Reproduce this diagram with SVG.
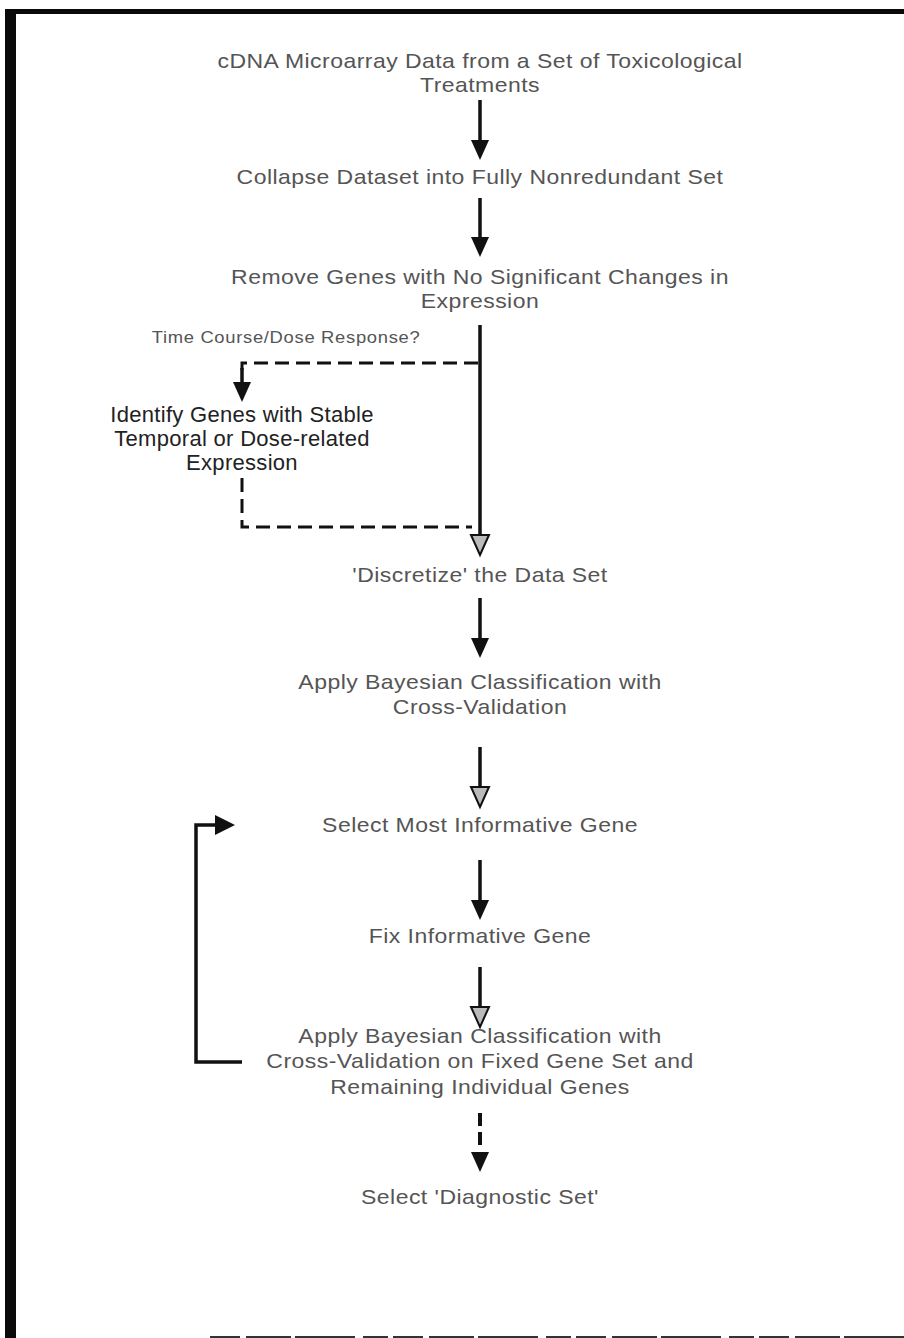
<svg xmlns="http://www.w3.org/2000/svg" width="904" height="1338" viewBox="0 0 904 1338">
<style>
.t{font-family:"Liberation Sans",Arial,sans-serif;font-size:20px;letter-spacing:0.4px;fill:#555;text-anchor:middle}
.dk{font-size:22px;letter-spacing:0.3px;fill:#222}
.sm{font-size:16px;letter-spacing:0.6px;fill:#555}
.ln{stroke:#111;stroke-width:3.5;fill:none}
.ds{stroke:#111;stroke-width:3;fill:none;stroke-dasharray:14 7}
.solid{fill:#111}
.open{fill:#bbb;stroke:#111;stroke-width:2}
</style>
<defs>
<polygon id="hd" points="-9,-20 9,-20 0,0"/>
<polygon id="hr" points="-20,-10 -20,10 0,0"/>
</defs>
<rect width="904" height="1338" fill="#fff"/>
<g id="frame">
<rect x="5" y="9" width="11" height="1329" fill="#0a0a0a"/>
<rect x="5" y="9" width="899" height="5" fill="#0a0a0a"/>
<line x1="210" y1="1337" x2="904" y2="1337" stroke="#333" stroke-width="2" stroke-dasharray="30 6 45 4 60 8 25 5"/>
</g>
<g id="connectors">
<line class="ln" x1="480" y1="100" x2="480" y2="142"/>
<use href="#hd" x="480" y="160" class="solid"/>
<line class="ln" x1="480" y1="198" x2="480" y2="239"/>
<use href="#hd" x="480" y="257" class="solid"/>
<line class="ln" x1="480" y1="325" x2="480" y2="535"/>
<use href="#hd" x="480" y="555" class="open"/>
<path class="ds" d="M478,363 H242 V370"/>
<line class="ln" x1="242" y1="368" x2="242" y2="384"/>
<use href="#hd" x="242" y="402" class="solid"/>
<path class="ds" d="M242,478 V527 H472"/>
<line class="ln" x1="480" y1="598" x2="480" y2="640"/>
<use href="#hd" x="480" y="658" class="solid"/>
<line class="ln" x1="480" y1="747" x2="480" y2="789"/>
<use href="#hd" x="480" y="807" class="open"/>
<line class="ln" x1="480" y1="860" x2="480" y2="902"/>
<use href="#hd" x="480" y="920" class="solid"/>
<line class="ln" x1="480" y1="967" x2="480" y2="1009"/>
<use href="#hd" x="480" y="1027" class="open"/>
<line x1="480" y1="1113" x2="480" y2="1150" stroke="#111" stroke-width="4" stroke-dasharray="13 6"/>
<use href="#hd" x="480" y="1172" class="solid"/>
<path class="ln" stroke-width="3" d="M242,1062 H196 V825 H216"/>
<use href="#hr" x="235" y="825" class="solid"/>
</g>
<g id="n1" transform="translate(480,0) scale(1.15,1)"><text class="t" x="0" y="68">cDNA Microarray Data from a Set of Toxicological</text><text class="t" x="0" y="92">Treatments</text></g>
<g id="n2" transform="translate(480,0) scale(1.15,1)"><text class="t" x="0" y="184">Collapse Dataset into Fully Nonredundant Set</text></g>
<g id="n3" transform="translate(480,0) scale(1.15,1)"><text class="t" x="0" y="284">Remove Genes with No Significant Changes in</text><text class="t" x="0" y="308">Expression</text></g>
<g id="lbl" transform="translate(286,0) scale(1.15,1)"><text class="t sm" x="0" y="343">Time Course/Dose Response?</text></g>
<g id="n4"><text class="t dk" x="242" y="422">Identify Genes with Stable</text><text class="t dk" x="242" y="446">Temporal or Dose-related</text><text class="t dk" x="242" y="470">Expression</text></g>
<g id="n5" transform="translate(480,0) scale(1.15,1)"><text class="t" x="0" y="582">'Discretize' the Data Set</text></g>
<g id="n6" transform="translate(480,0) scale(1.15,1)"><text class="t" x="0" y="689">Apply Bayesian Classification with</text><text class="t" x="0" y="714">Cross-Validation</text></g>
<g id="n7" transform="translate(480,0) scale(1.15,1)"><text class="t" x="0" y="832">Select Most Informative Gene</text></g>
<g id="n8" transform="translate(480,0) scale(1.15,1)"><text class="t" x="0" y="943">Fix Informative Gene</text></g>
<g id="n9" transform="translate(480,0) scale(1.15,1)"><text class="t" x="0" y="1043">Apply Bayesian Classification with</text><text class="t" x="0" y="1068">Cross-Validation on Fixed Gene Set and</text><text class="t" x="0" y="1094">Remaining Individual Genes</text></g>
<g id="n10" transform="translate(480,0) scale(1.15,1)"><text class="t" x="0" y="1204">Select 'Diagnostic Set'</text></g>
</svg>
